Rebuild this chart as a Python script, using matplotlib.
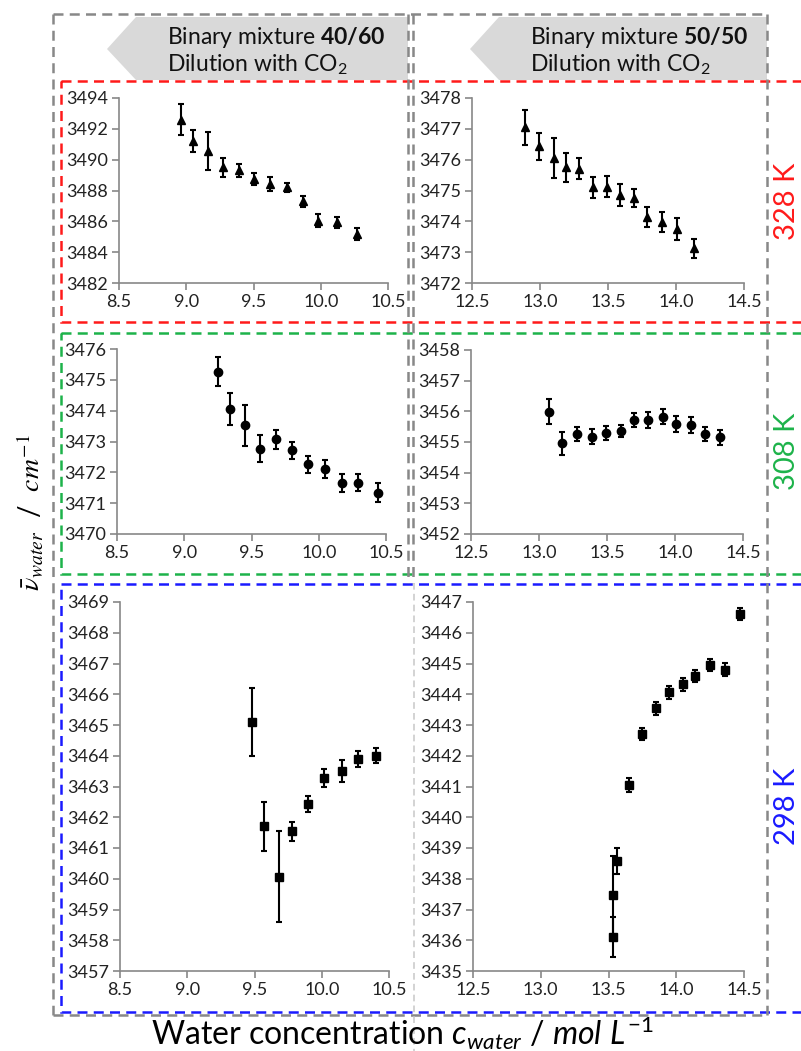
import matplotlib
matplotlib.use('Agg')
import matplotlib.pyplot as plt
from matplotlib.patches import Polygon, Rectangle
from matplotlib.lines import Line2D

plt.rcParams['font.family'] = ['Lato', 'DejaVu Sans']
plt.rcParams['mathtext.fontset'] = 'custom'
plt.rcParams['mathtext.rm'] = 'Lato'
plt.rcParams['mathtext.it'] = 'Lato:italic'
plt.rcParams['mathtext.bf'] = 'Lato:bold'

# Datos: 328 K (triangulos), 308 K (circulos), 298 K (cuadrados)
x_328_4060 = [8.96, 9.05, 9.16, 9.27, 9.39, 9.50, 9.62, 9.75, 9.87, 9.98, 10.12, 10.27]
y_328_4060 = [3492.6, 3491.2, 3490.55, 3489.5, 3489.3, 3488.75, 3488.4, 3488.2, 3487.3, 3486.05, 3485.95, 3485.2]
e_328_4060 = [1.0, 0.7, 1.25, 0.6, 0.45, 0.4, 0.45, 0.3, 0.35, 0.4, 0.35, 0.38]

x_328_5050 = [12.89, 12.99, 13.10, 13.19, 13.29, 13.39, 13.49, 13.59, 13.69, 13.79, 13.90, 14.01, 14.13]
y_328_5050 = [3477.05, 3476.43, 3476.05, 3475.75, 3475.71, 3475.1, 3475.12, 3474.85, 3474.76, 3474.15, 3473.99, 3473.74, 3473.12]
e_328_5050 = [0.57, 0.45, 0.65, 0.46, 0.33, 0.35, 0.34, 0.35, 0.3, 0.33, 0.32, 0.36, 0.3]

x_308_4060 = [9.25, 9.34, 9.45, 9.56, 9.68, 9.80, 9.92, 10.05, 10.17, 10.29, 10.44]
y_308_4060 = [3475.27, 3474.05, 3473.53, 3472.77, 3473.07, 3472.71, 3472.26, 3472.1, 3471.66, 3471.66, 3471.34]
e_308_4060 = [0.47, 0.52, 0.66, 0.44, 0.3, 0.28, 0.27, 0.29, 0.3, 0.28, 0.3]

x_308_5050 = [13.07, 13.17, 13.28, 13.39, 13.49, 13.60, 13.70, 13.80, 13.91, 14.01, 14.12, 14.22, 14.33]
y_308_5050 = [3455.99, 3454.96, 3455.27, 3455.17, 3455.29, 3455.35, 3455.71, 3455.72, 3455.83, 3455.58, 3455.54, 3455.26, 3455.15]
e_308_5050 = [0.4, 0.37, 0.23, 0.25, 0.24, 0.2, 0.23, 0.26, 0.24, 0.27, 0.26, 0.23, 0.24]

x_298_4060 = [9.48, 9.57, 9.68, 9.78, 9.90, 10.02, 10.15, 10.27, 10.40]
y_298_4060 = [3465.1, 3461.71, 3460.07, 3461.54, 3462.43, 3463.29, 3463.5, 3463.9, 3464.0]
e_298_4060 = [1.1, 0.8, 1.47, 0.3, 0.27, 0.29, 0.35, 0.26, 0.25]

x_298_5050 = [13.53, 13.535, 13.56, 13.65, 13.75, 13.85, 13.95, 14.05, 14.14, 14.25, 14.36, 14.47]
y_298_5050 = [3437.46, 3436.1, 3438.58, 3441.05, 3442.7, 3443.54, 3444.06, 3444.32, 3444.59, 3444.95, 3444.8, 3446.61]
e_298_5050 = [1.28, 0.64, 0.42, 0.23, 0.19, 0.2, 0.2, 0.2, 0.2, 0.21, 0.21, 0.19]

W, H = 801, 1051
fig = plt.figure(figsize=(W / 100, H / 100), dpi=100)


def caja(x0, y0, x1, y1):
    # pixeles (origen arriba a la izquierda) -> fraccion de figura
    return [x0 / W, 1 - y1 / H, (x1 - x0) / W, (y1 - y0) / H]


gris = '#888888'
paneles = [
    (caja(119, 98, 388, 283), x_328_4060, y_328_4060, e_328_4060, '^', 5.5, (8.5, 10.5), (3482, 3494), 2),
    (caja(472, 98, 744, 283), x_328_5050, y_328_5050, e_328_5050, '^', 5.5, (12.5, 14.5), (3472, 3478), 1),
    (caja(117, 349, 386, 534), x_308_4060, y_308_4060, e_308_4060, 'o', 6, (8.5, 10.5), (3470, 3476), 1),
    (caja(471, 350, 743, 534), x_308_5050, y_308_5050, e_308_5050, 'o', 6, (12.5, 14.5), (3452, 3458), 1),
    (caja(120, 602, 389, 971), x_298_4060, y_298_4060, e_298_4060, 's', 6, (8.5, 10.5), (3457, 3469), 1),
    (caja(473, 602, 744, 971), x_298_5050, y_298_5050, e_298_5050, 's', 6, (12.5, 14.5), (3435, 3447), 1),
]

for pos, xs, ys, es, mk, ms, xl, yl, paso in paneles:
    ax = fig.add_axes(pos)
    ax.errorbar(xs, ys, yerr=es, fmt=mk, color='black', ms=ms, elinewidth=1.5,
                capsize=2.5, capthick=1.5, clip_on=False)
    ax.set_xlim(*xl)
    ax.set_ylim(*yl)
    ax.set_xticks([xl[0] + 0.5 * i for i in range(5)])
    ax.set_xticklabels([f'{xl[0] + 0.5 * i:.1f}' for i in range(5)])
    ax.set_yticks(range(yl[0], yl[1] + 1, paso))
    ax.spines['top'].set_visible(False)
    ax.spines['right'].set_visible(False)
    for s in ['left', 'bottom']:
        ax.spines[s].set_color(gris)
        ax.spines[s].set_linewidth(1.2)
    ax.tick_params(direction='out', length=5, width=1.2, color=gris,
                   labelsize=13, labelcolor='#222222', pad=3)

# capa de dibujo para marcos y flechas
ov = fig.add_axes([0, 0, 1, 1], zorder=10)
ov.set_xlim(0, W)
ov.set_ylim(H, 0)
ov.axis('off')
ov.patch.set_alpha(0)

# flechas grises de cabecera
for x0, x1 in [(107, 408), (470, 767)]:
    ov.add_patch(Polygon([(x0, 49), (x0 + 29, 17), (x1, 17), (x1, 80), (x0 + 29, 80)],
                         closed=True, facecolor='#d9d9d9', edgecolor='none'))

# marcos de temperatura
for y0, y1, col in [(81, 322, '#ff1a1a'), (333, 574, '#1db34a'), (584, 1012, '#1a1aff')]:
    ov.add_patch(Rectangle((61, y0), 760, y1 - y0, fill=False, edgecolor=col,
                           linestyle=(0, (4, 2.5)), linewidth=1.8))

# marcos grises de cada mezcla
ls = (0, (4, 2.5))
ov.add_line(Line2D([53, 767], [14, 14], color=gris, ls=ls, lw=1.8))
ov.add_line(Line2D([53, 767], [1015, 1015], color=gris, ls=ls, lw=1.8))
ov.add_line(Line2D([53, 53], [14, 1015], color=gris, ls=ls, lw=1.8))
ov.add_line(Line2D([767, 767], [14, 1015], color=gris, ls=ls, lw=1.8))
ov.add_line(Line2D([408, 408], [14, 583], color=gris, ls=ls, lw=1.8))
ov.add_line(Line2D([413, 413], [14, 583], color=gris, ls=ls, lw=1.8))
ov.add_line(Line2D([414, 414], [583, 1051], color='#cccccc', ls=ls, lw=1.2))

# textos de cabecera
for x, mezcla in [(167, '40/60'), (530, '50/50')]:
    ov.text(x, 37, 'Binary mixture $\\mathbf{' + mezcla + '}$', fontsize=16.5,
            ha='left', va='center', color='#111111')
    ov.text(x, 65, 'Dilution with CO$_2$', fontsize=16.5, ha='left', va='center', color='#111111')

# etiquetas de temperatura
for y, txt, col in [(201, '328 K', '#ff1a1a'), (451, '308 K', '#1db34a'), (806, '298 K', '#1a1aff')]:
    ov.text(787, y, txt, rotation=90, fontsize=21, color=col, ha='center', va='center')

ov.text(30, 513, '$\\bar{\\nu}_{water}$  /  $cm^{-1}$', rotation=90, fontsize=20,
        ha='center', va='center', math_fontfamily='stix')
ov.text(402, 1033, 'Water concentration $c_{water}$ / $mol\\ L^{-1}$', fontsize=23,
        ha='center', va='center')

fig.savefig('out.png', dpi=100)
